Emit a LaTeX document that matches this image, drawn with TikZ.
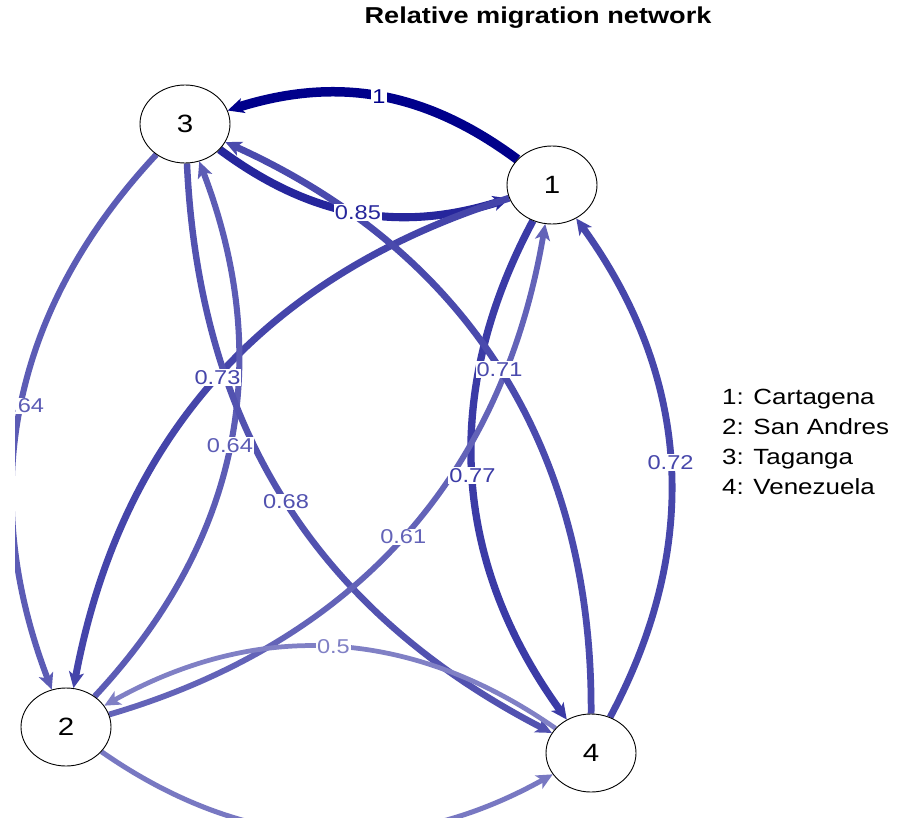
\documentclass[tikz,border=0pt]{standalone}
\usepackage{fontspec}
\setmainfont{Liberation Sans}[FakeStretch=1.18]
\usetikzlibrary{shapes.geometric, arrows.meta, backgrounds, positioning}
\definecolor{netblue}{RGB}{0, 0, 139}
\tikzset{
    place/.style={
        ellipse,
        draw=black,
        line width=0.9pt,
        fill=white,
        minimum width=90pt,
        minimum height=78pt,
        inner sep=0pt,
        font=\fontsize{25}{25}\selectfont
    },
    flow/.style={
        draw=netblue!#1!white,
        line width=0.095pt*#1,
        -{Stealth[length=16pt, width=15pt, inset=4pt]}
    },
    weight/.style={
        text=netblue!#1!white,
        fill=white,
        inner sep=1pt,
        font=\fontsize{20}{20}\selectfont
    },
    legendtext/.style={anchor=base west, inner sep=0pt, font=\fontsize{22}{22}\selectfont}
}
\begin{document}
\begin{tikzpicture}[x=1pt, y=1pt]
    \useasboundingbox (0,0) rectangle (899,-818);

    % Title
    \node[font=\fontsize{23}{23}\selectfont\bfseries] (title) at (538,-18) {Relative migration network};

    % Places
    \node[place] (n3) at (185,-124) {3};
    \node[place] (n1) at (552,-185) {1};
    \node[place] (n2) at (66,-727) {2};
    \node[place] (n4) at (591,-753) {4};

    % Flows
    \begin{scope}[on background layer]
        \fill[white] (0,0) rectangle (899,-818);
        \begin{scope}
            \clip (15,0) rectangle (899,-818);
            \draw[flow=100] (n1) to[bend right=27] coordinate (m13) (n3);
            \draw[flow=85] (n3) to[bend right=27] coordinate (m31) (n1);
            \draw[flow=64] (n3) to[bend right=32] coordinate (m32) (n2);
            \draw[flow=73] (n1) to[bend right=31] coordinate (m12) (n2);
            \draw[flow=64] (n2) to[bend right=32] coordinate (m23) (n3);
            \draw[flow=68] (n3) to[bend right=30] coordinate (m34) (n4);
            \draw[flow=72] (n4) to[bend right=32] coordinate (m41) (n1);
            \draw[flow=77] (n1) to[bend right=32] coordinate (m14) (n4);
            \draw[flow=61] (n2) to[bend right=32] coordinate (m21) (n1);
            \draw[flow=71] (n4) to[bend right=33] coordinate (m43) (n3);
            \draw[flow=50] (n4) to[bend right=32] coordinate (m42) (n2);
            \draw[flow=53] (n2) to[bend right=32] (n4);

            % Weights
            \node[weight=100] at (m13) {1};
            \node[weight=85] at (m31) {0.85};
            \node[weight=64] at (m32) {0.64};
            \node[weight=73] at (m12) {0.73};
            \node[weight=64] at (m23) {0.64};
            \node[weight=68] at (m34) {0.68};
            \node[weight=72] at (m41) {0.72};
            \node[weight=77] at (m14) {0.77};
            \node[weight=61] at (m21) {0.61};
            \node[weight=71] at (m43) {0.71};
            \node[weight=50] at (m42) {0.5};
        \end{scope}
    \end{scope}

    % Legend
    \node[legendtext] (leg1) at (722,-404) {1: Cartagena};
    \node[legendtext] (leg2) at ([yshift=-30pt]leg1.base west) {2: San Andres};
    \node[legendtext] (leg3) at ([yshift=-30pt]leg2.base west) {3: Taganga};
    \node[legendtext] (leg4) at ([yshift=-30pt]leg3.base west) {4: Venezuela};
\end{tikzpicture}
\end{document}
